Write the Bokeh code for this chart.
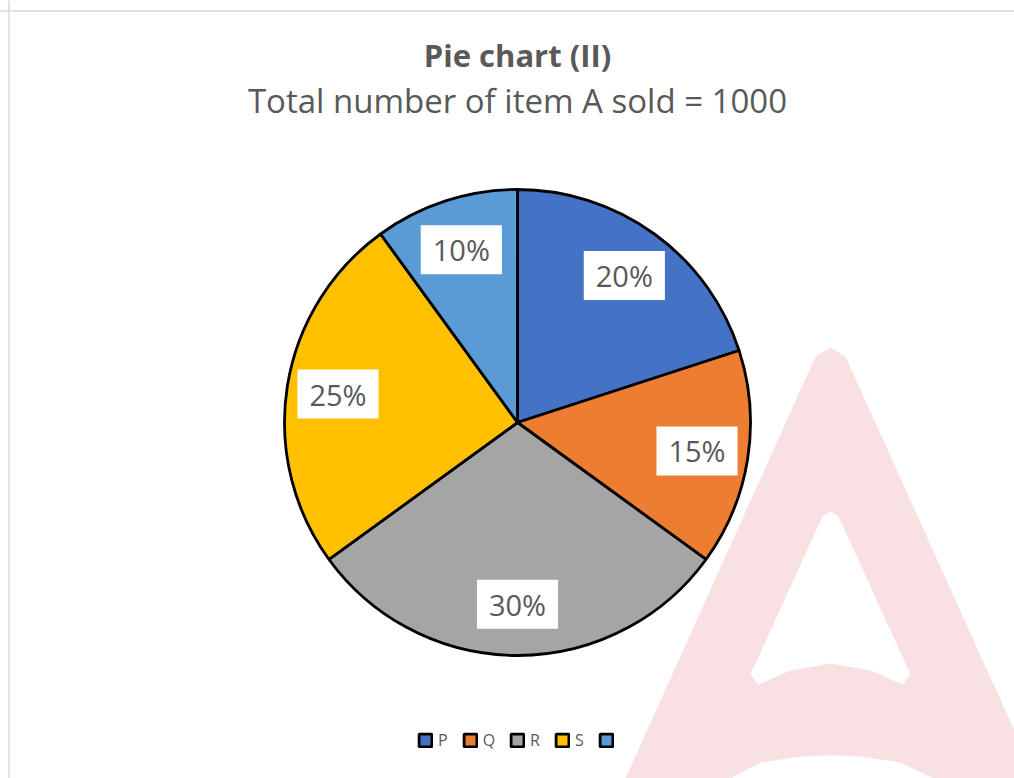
from bokeh.plotting import figure
from bokeh.models import Range1d, ColumnDataSource, Label, Legend, LegendItem, Span
from bokeh.core.properties import value
from bokeh.embed import file_html
from bokeh.resources import INLINE
import math

# ---- data ----
categories = ["P", "Q", "R", "S", ""]
shares = [20, 15, 30, 25, 10]          # percent of 1000 items
colors = ["#4472C4", "#ED7D31", "#A5A5A5", "#FFC000", "#5B9BD5"]
title_text = "Pie chart (II)"
subtitle_text = "Total number of item A sold = 1000"

FONT = "Open Sans"
TXT = "#595959"

W, H = 1014, 778
p = figure(width=W, height=H, x_range=Range1d(0, W), y_range=Range1d(0, H),
           x_axis_type=None, y_axis_type=None, toolbar_location=None,
           output_backend="svg", min_border=0, outline_line_color=None)
p.grid.visible = False
p.background_fill_color = "white"
p.border_fill_color = "white"

# page y (pixels from top) -> data y
def sy(y):
    return H - y

# ---- watermark (decorative logo, behind everything) ----
wm_x = [615, 815, 830, 845, 1050, 1050, 933, 900, 860, 830, 800, 760, 730]
wm_y = [sy(800), sy(356), sy(347), sy(356), sy(810), sy(810), sy(778), sy(762), sy(756), sy(755), sy(756), sy(762), sy(778)]
p.patch(wm_x, wm_y, fill_color="#F9E1E3", line_color=None)
hole_x = [822, 830, 838, 910, 902, 870, 830, 790, 758, 750]
hole_y = [sy(516), sy(511), sy(516), sy(674), sy(684), sy(670), sy(663), sy(670), sy(684), sy(674)]
p.patch(hole_x, hole_y, fill_color="white", line_color=None)

# ---- chart border ----
p.add_layout(Span(location=8.5, dimension="height", line_color="#D9D9D9", line_width=1.5))
p.add_layout(Span(location=sy(10.5), dimension="width", line_color="#D9D9D9", line_width=1.5))

# ---- pie ----
cx, cy, r = 517, sy(422), 233
total = sum(shares)
starts, ends, mids = [], [], []
a = math.pi / 2
for s in shares:
    sweep = 2 * math.pi * s / total
    starts.append(a)
    ends.append(a - sweep)
    mids.append(a - sweep / 2)
    a -= sweep

src = ColumnDataSource(dict(cat=categories, share=shares, color=colors,
                            start=starts, end=ends))
pie = p.wedge(x=cx, y=cy, radius=r, start_angle="start", end_angle="end", direction="clock",
              fill_color="color", line_color="black", line_width=2.8, source=src)

# ---- data labels ----
lr = 0.78 * r
lab = ColumnDataSource(dict(
    x=[cx + lr * math.cos(m) for m in mids],
    y=[cy + lr * math.sin(m) for m in mids],
    t=[f"{s}%" for s in shares]))
p.text(x="x", y="y", text="t", source=lab, text_align="center", text_baseline="middle",
       text_font=value(FONT), text_font_size="29px", text_color=TXT,
       background_fill_color="white", padding=dict(left=12, right=12, top=5, bottom=5))

# ---- titles ----
p.add_layout(Label(x=517, y=sy(54), text=title_text, text_align="center",
                   text_baseline="middle", text_font=FONT, text_font_size="31px",
                   text_font_style="bold", text_color=TXT))
p.add_layout(Label(x=517, y=sy(100), text=subtitle_text, text_align="center",
                   text_baseline="middle", text_font=FONT, text_font_size="33px",
                   text_color=TXT))

# ---- legend ----
items = [LegendItem(label=c, renderers=[pie], index=i) for i, c in enumerate(categories)]
legend = Legend(items=items, orientation="horizontal", location=(417, 27),
                glyph_width=16, glyph_height=16, label_standoff=5, spacing=14,
                label_width=0, label_height=16, padding=0, margin=0, border_line_color=None,
                background_fill_alpha=0, label_text_font=FONT,
                label_text_font_size="16px", label_text_color=TXT)
p.add_layout(legend, "center")

open("out.html", "w").write(file_html(p, INLINE))
